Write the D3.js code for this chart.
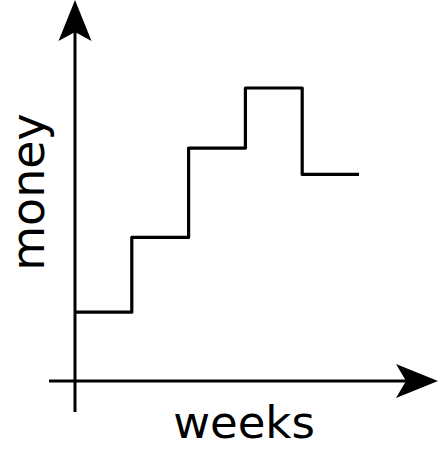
<!DOCTYPE html>
<html>
<head>
<meta charset="utf-8">
<script src="https://cdn.jsdelivr.net/npm/d3@7"></script>
<style>
  html, body { margin: 0; padding: 0; background: #fff; }
</style>
</head>
<body>
<div id="container"></div>
<script>
// weeks along the bottom, money held in each week (last value repeated to close the step)
const weeks = [0, 1, 2, 3, 4, 5];
const money = [2.35, 4.9, 7.95, 10, 7.05, 7.05];
const xLabel = "weeks";
const yLabel = "money";

const width = 439;
const height = 454;

const xScale = d3.scaleLinear()
    .domain([0, 5])
    .range([75, 359]);

const yScale = d3.scaleLinear()
    .domain([0, 10])
    .range([381, 88]);

const svg = d3.select("#container")
    .append("svg")
    .attr("width", width)
    .attr("height", height);

const x0 = xScale(0);
const y0 = yScale(0);

//vertical axis with its arrow
svg.append("line")
    .attr("x1", x0)
    .attr("x2", x0)
    .attr("y1", 412)
    .attr("y2", 30)
    .attr("stroke", "black")
    .attr("stroke-width", 3);

svg.append("path")
    .attr("d", `M${x0},0 L${x0 - 16.5},41 L${x0},32 L${x0 + 16.5},41 Z`)
    .attr("fill", "black");

//horizontal axis with its arrow
svg.append("line")
    .attr("x1", 49)
    .attr("x2", 410)
    .attr("y1", y0)
    .attr("y2", y0)
    .attr("stroke", "black")
    .attr("stroke-width", 3);

svg.append("path")
    .attr("d", `M438,${y0} L396,${y0 - 17} L406,${y0} L396,${y0 + 17} Z`)
    .attr("fill", "black");

//the step line
const line = d3.line()
    .x((d, i) => xScale(weeks[i]))
    .y(d => yScale(d))
    .curve(d3.curveStepAfter);

svg.append("path")
    .datum(money)
    .attr("d", line)
    .attr("fill", "none")
    .attr("stroke", "black")
    .attr("stroke-width", 3.2)
    .attr("stroke-linejoin", "round");

//axis labels
svg.append("text")
    .attr("x", 244)
    .attr("y", 438)
    .attr("text-anchor", "middle")
    .attr("font-family", "DejaVu Sans")
    .attr("font-size", 45)
    .text(xLabel);

svg.append("text")
    .attr("transform", "translate(44,192) rotate(-90)")
    .attr("text-anchor", "middle")
    .attr("font-family", "DejaVu Sans")
    .attr("font-size", 46)
    .text(yLabel);
</script>
</body>
</html>
